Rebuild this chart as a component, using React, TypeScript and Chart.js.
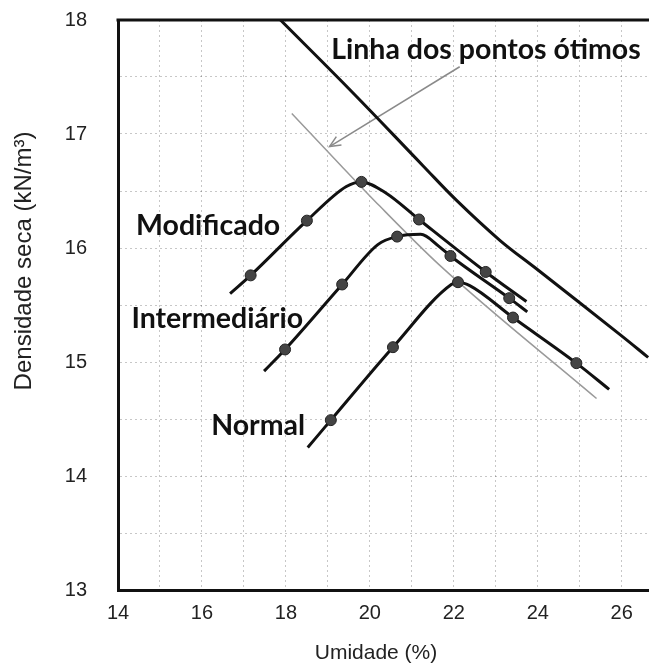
import React, { useEffect, useRef } from "react";
import { Chart, registerables } from "chart.js";

Chart.register(...registerables);

// Axis ticks
const xGridTicks = [14, 15, 16, 17, 18, 19, 20, 21, 22, 23, 24, 25, 26];
const xLabelTicks = [14, 16, 18, 20, 22, 24, 26];
const yGridTicks = [13, 13.5, 14, 14.5, 15, 15.5, 16, 16.5, 17, 17.5, 18];
const yLabelTicks = [13, 14, 15, 16, 17, 18];
const xMin = 14;
const xMax = 26.65;
const yMin = 13;
const yMax = 18;

// Compaction curves (x = moisture %, y = dry density kN/m3, marked = measured point)
const modX = [16.67, 17.16, 18.5, 19.44, 19.8, 20.39, 21.17, 22.76, 23.73];
const modY = [15.6, 15.76, 16.24, 16.54, 16.58, 16.48, 16.25, 15.79, 15.53];
const modMarked = [0, 1, 1, 0, 1, 0, 1, 1, 0];

const intX = [17.48, 17.98, 19.34, 20.19, 20.65, 21.21, 21.66, 21.92, 23.32, 23.75];
const intY = [14.92, 15.11, 15.68, 16.03, 16.1, 16.12, 16.01, 15.93, 15.56, 15.44];
const intMarked = [0, 1, 1, 0, 1, 0, 0, 1, 1, 0];

const norX = [18.52, 19.07, 20.55, 21.94, 22.1, 22.38, 23.41, 24.92, 25.7];
const norY = [14.25, 14.49, 15.13, 15.68, 15.7, 15.67, 15.39, 14.99, 14.76];
const norMarked = [0, 1, 1, 0, 1, 0, 1, 1, 0];

// Saturation (thick) curve
const satX = [17.87, 19.6, 21.27, 22.06, 23.09, 23.96, 25.96, 26.63];
const satY = [18.0, 17.36, 16.72, 16.42, 16.07, 15.82, 15.24, 15.04];

// Line of optimum points (thin gray)
const optX = [18.14, 19.32, 20.23, 21.66, 25.4];
const optY = [17.18, 16.72, 16.37, 15.85, 14.68];

// Arrow from label to optimum line
const arrowX = [22.14, 19.04];
const arrowY = [17.59, 16.89];

// Annotations
const labelTexts = ["Linha dos pontos ótimos", "Modificado", "Intermediário", "Normal"];
const labelX = [19.08, 14.43, 14.32, 16.22];
const labelY = [17.66, 16.11, 15.3, 14.36];

const xTitle = "Umidade (%)";
const yTitle = "Densidade seca (kN/m³)";

const pts = (xs: number[], ys: number[]) => xs.map((x, i) => ({ x, y: ys[i] }));

const overlayPlugin = {
  id: "overlay",
  afterDatasetsDraw(chart: any) {
    const { ctx, chartArea, scales } = chart;
    const xs = scales.x;
    const ys = scales.y;
    ctx.save();
    // top frame line
    ctx.strokeStyle = "#111";
    ctx.lineWidth = 3;
    ctx.beginPath();
    ctx.moveTo(chartArea.left - 1.5, chartArea.top);
    ctx.lineTo(chartArea.right, chartArea.top);
    ctx.stroke();
    // arrow head
    const x0 = xs.getPixelForValue(arrowX[0]);
    const y0 = ys.getPixelForValue(arrowY[0]);
    const x1 = xs.getPixelForValue(arrowX[1]);
    const y1 = ys.getPixelForValue(arrowY[1]);
    const ang = Math.atan2(y1 - y0, x1 - x0);
    const len = 12;
    const spread = 0.42;
    ctx.strokeStyle = "#8a8a8a";
    ctx.lineWidth = 1.5;
    ctx.beginPath();
    ctx.moveTo(x1 - len * Math.cos(ang - spread), y1 - len * Math.sin(ang - spread));
    ctx.lineTo(x1, y1);
    ctx.lineTo(x1 - len * Math.cos(ang + spread), y1 - len * Math.sin(ang + spread));
    ctx.stroke();
    // labels
    ctx.font = "bold 28.5px Lato";
    ctx.fillStyle = "#111";
    ctx.textAlign = "left";
    ctx.textBaseline = "alphabetic";
    labelTexts.forEach((t, i) => {
      ctx.fillText(t, xs.getPixelForValue(labelX[i]), ys.getPixelForValue(labelY[i]));
    });
    // axis titles
    ctx.fillStyle = "#222";
    ctx.textAlign = "center";
    ctx.textBaseline = "middle";
    ctx.font = '21px "Liberation Sans"';
    ctx.fillText(xTitle, 376, 653);
    ctx.translate(24, 261);
    ctx.rotate(-Math.PI / 2);
    ctx.font = '24px "Liberation Sans"';
    ctx.fillText(yTitle, 0, 0);
    ctx.restore();
  },
};

const curveDataset = (xs: number[], ys: number[], marked: number[]) => ({
  data: pts(xs, ys),
  borderColor: "#111",
  borderWidth: 3,
  cubicInterpolationMode: "monotone" as const,
  pointRadius: (c: any) => (marked[c.dataIndex] ? 5.5 : 0),
  pointBackgroundColor: "#444",
  pointBorderColor: "#222",
  pointBorderWidth: 1,
  fill: false,
});

export default function App() {
  const ref = useRef<HTMLCanvasElement | null>(null);
  useEffect(() => {
    if (!ref.current) return;
    const chart = new Chart(ref.current, {
      type: "line",
      data: {
        datasets: [
          curveDataset(modX, modY, modMarked),
          curveDataset(intX, intY, intMarked),
          curveDataset(norX, norY, norMarked),
          {
            data: pts(satX, satY),
            borderColor: "#111",
            borderWidth: 3,
            tension: 0.4,
            pointRadius: 0,
          },
          {
            data: pts(optX, optY),
            borderColor: "#9a9a9a",
            borderWidth: 1.5,
            cubicInterpolationMode: "monotone",
            pointRadius: 0,
          },
          {
            data: pts(arrowX, arrowY),
            borderColor: "#8a8a8a",
            borderWidth: 1.5,
            pointRadius: 0,
          },
        ] as any,
      },
      options: {
        animation: false,
        responsive: false,
        maintainAspectRatio: false,
        devicePixelRatio: 1,
        events: [],
        layout: { padding: { top: 20, right: 0, left: 0, bottom: 0 } },
        plugins: { legend: { display: false }, tooltip: { enabled: false } },
        scales: {
          x: {
            type: "linear",
            min: xMin,
            max: xMax,
            afterBuildTicks: (s: any) => {
              s.ticks = xGridTicks.map((v) => ({ value: v }));
            },
            afterFit: (s: any) => {
              s.height = 73;
              s.paddingLeft = 0;
              s.paddingRight = 0;
            },
            ticks: {
              autoSkip: false,
              maxRotation: 0,
              padding: 11,
              color: "#222",
              font: { family: "Liberation Sans", size: 20 },
              callback: (v: any) => (xLabelTicks.includes(Number(v)) ? String(v) : ""),
            },
            grid: { color: "rgba(0,0,0,0.22)", lineWidth: 1, drawTicks: false },
            border: { display: true, width: 3, color: "#111", dash: [2, 3] },
          },
          y: {
            type: "linear",
            min: yMin,
            max: yMax,
            afterBuildTicks: (s: any) => {
              s.ticks = yGridTicks.map((v) => ({ value: v }));
            },
            afterFit: (s: any) => {
              s.width = 118;
              s.paddingTop = 0;
              s.paddingBottom = 0;
            },
            ticks: {
              autoSkip: false,
              padding: 31,
              color: "#222",
              font: { family: "Liberation Sans", size: 20 },
              callback: (v: any) => (yLabelTicks.includes(Number(v)) ? String(v) : ""),
            },
            grid: { color: "rgba(0,0,0,0.22)", lineWidth: 1, drawTicks: false },
            border: { display: true, width: 3, color: "#111", dash: [2, 3] },
          },
        },
      },
      plugins: [overlayPlugin],
    });
    return () => chart.destroy();
  }, []);
  return (
    <div
      style={{
        position: "fixed",
        left: 0,
        top: 0,
        width: 649,
        height: 663,
        overflow: "hidden",
        background: "#fff",
      }}
    >
      <canvas ref={ref} width={649} height={663} style={{ width: 649, height: 663, display: "block" }} />
    </div>
  );
}
